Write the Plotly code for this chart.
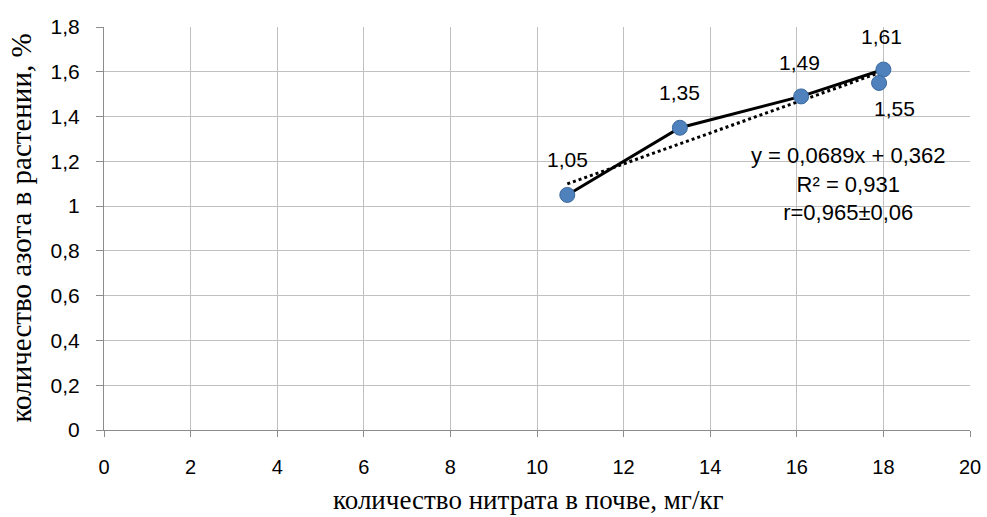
import plotly.graph_objects as go

# Data
nitrate = [10.7, 13.3, 16.1, 18.0, 17.9]
nitrogen = [1.05, 1.35, 1.49, 1.61, 1.55]
point_labels = ["1,05", "1,35", "1,49", "1,61", "1,55"]
label_dx = [0, 0, -2, -2, 15]
label_dy = [35, 35, 34, 33, -26]

trend_slope = 0.0689
trend_intercept = 0.362
trend_x = [min(nitrate), max(nitrate)]
trend_y = [trend_slope * v + trend_intercept for v in trend_x]

x_ticks = [0, 2, 4, 6, 8, 10, 12, 14, 16, 18, 20]
y_ticks = [0, 0.2, 0.4, 0.6, 0.8, 1, 1.2, 1.4, 1.6, 1.8]

fig = go.Figure()

fig.add_trace(go.Scatter(
    x=trend_x, y=trend_y, mode="lines",
    line=dict(color="black", width=3, dash="dot"),
    hoverinfo="skip", showlegend=False,
))

fig.add_trace(go.Scatter(
    x=nitrate, y=nitrogen, mode="lines+markers",
    line=dict(color="black", width=3),
    marker=dict(size=15, color="#4f81bd", line=dict(color="#3a6a9e", width=1)),
    showlegend=False,
))

for xv, yv, t, dx, dy in zip(nitrate, nitrogen, point_labels, label_dx, label_dy):
    fig.add_annotation(
        x=xv, y=yv, xref="x", yref="y", text=t, showarrow=False,
        xshift=dx, yshift=dy, xanchor="center", yanchor="middle",
        font=dict(family="Liberation Sans", size=21, color="black"),
    )

fig.add_annotation(
    x=17.2, y=1.098, xref="x", yref="y",
    text="y = 0,0689x + 0,362<br>R² = 0,931<br>r=0,965±0,06",
    showarrow=False, align="center", xanchor="center", yanchor="middle",
    font=dict(family="Liberation Sans", size=22, color="black"),
)

fig.add_annotation(
    x=0.49, y=0, xref="paper", yref="paper", yshift=-70,
    text="количество нитрата в почве, мг/кг", showarrow=False,
    xanchor="center", yanchor="middle",
    font=dict(family="Liberation Serif", size=27, color="black"),
)

fig.add_annotation(
    x=0, y=0.5, xref="paper", yref="paper", xshift=-84,
    text="количество азота в растении, %", showarrow=False, textangle=-90,
    xanchor="center", yanchor="middle",
    font=dict(family="Liberation Serif", size=29, color="black"),
)

fig.update_layout(
    width=987, height=517,
    margin=dict(l=104, r=17, t=27, b=87),
    paper_bgcolor="white", plot_bgcolor="white",
    separators=", ",
    showlegend=False,
    xaxis=dict(
        range=[0, 20], tickvals=x_ticks, automargin=False,
        showgrid=True, gridcolor="#c0c0c0", gridwidth=1,
        showline=True, linecolor="#8c8c8c", linewidth=1,
        ticks="outside", ticklen=6, tickcolor="#8c8c8c",
        ticklabelstandoff=13,
        tickfont=dict(family="Liberation Sans", size=20, color="black"),
        zeroline=False,
    ),
    yaxis=dict(
        range=[0, 1.8], tickvals=y_ticks, automargin=False,
        showgrid=True, gridcolor="#c0c0c0", gridwidth=1,
        showline=True, linecolor="#8c8c8c", linewidth=1,
        ticks="outside", ticklen=7, tickcolor="#8c8c8c",
        ticklabelstandoff=12,
        tickfont=dict(family="Liberation Sans", size=21, color="black"),
        zeroline=False,
    ),
)

fig.write_html(
    "out.html",
    config={"displayModeBar": False},
    post_script="document.body.style.margin='0';document.body.style.overflow='hidden';",
)
